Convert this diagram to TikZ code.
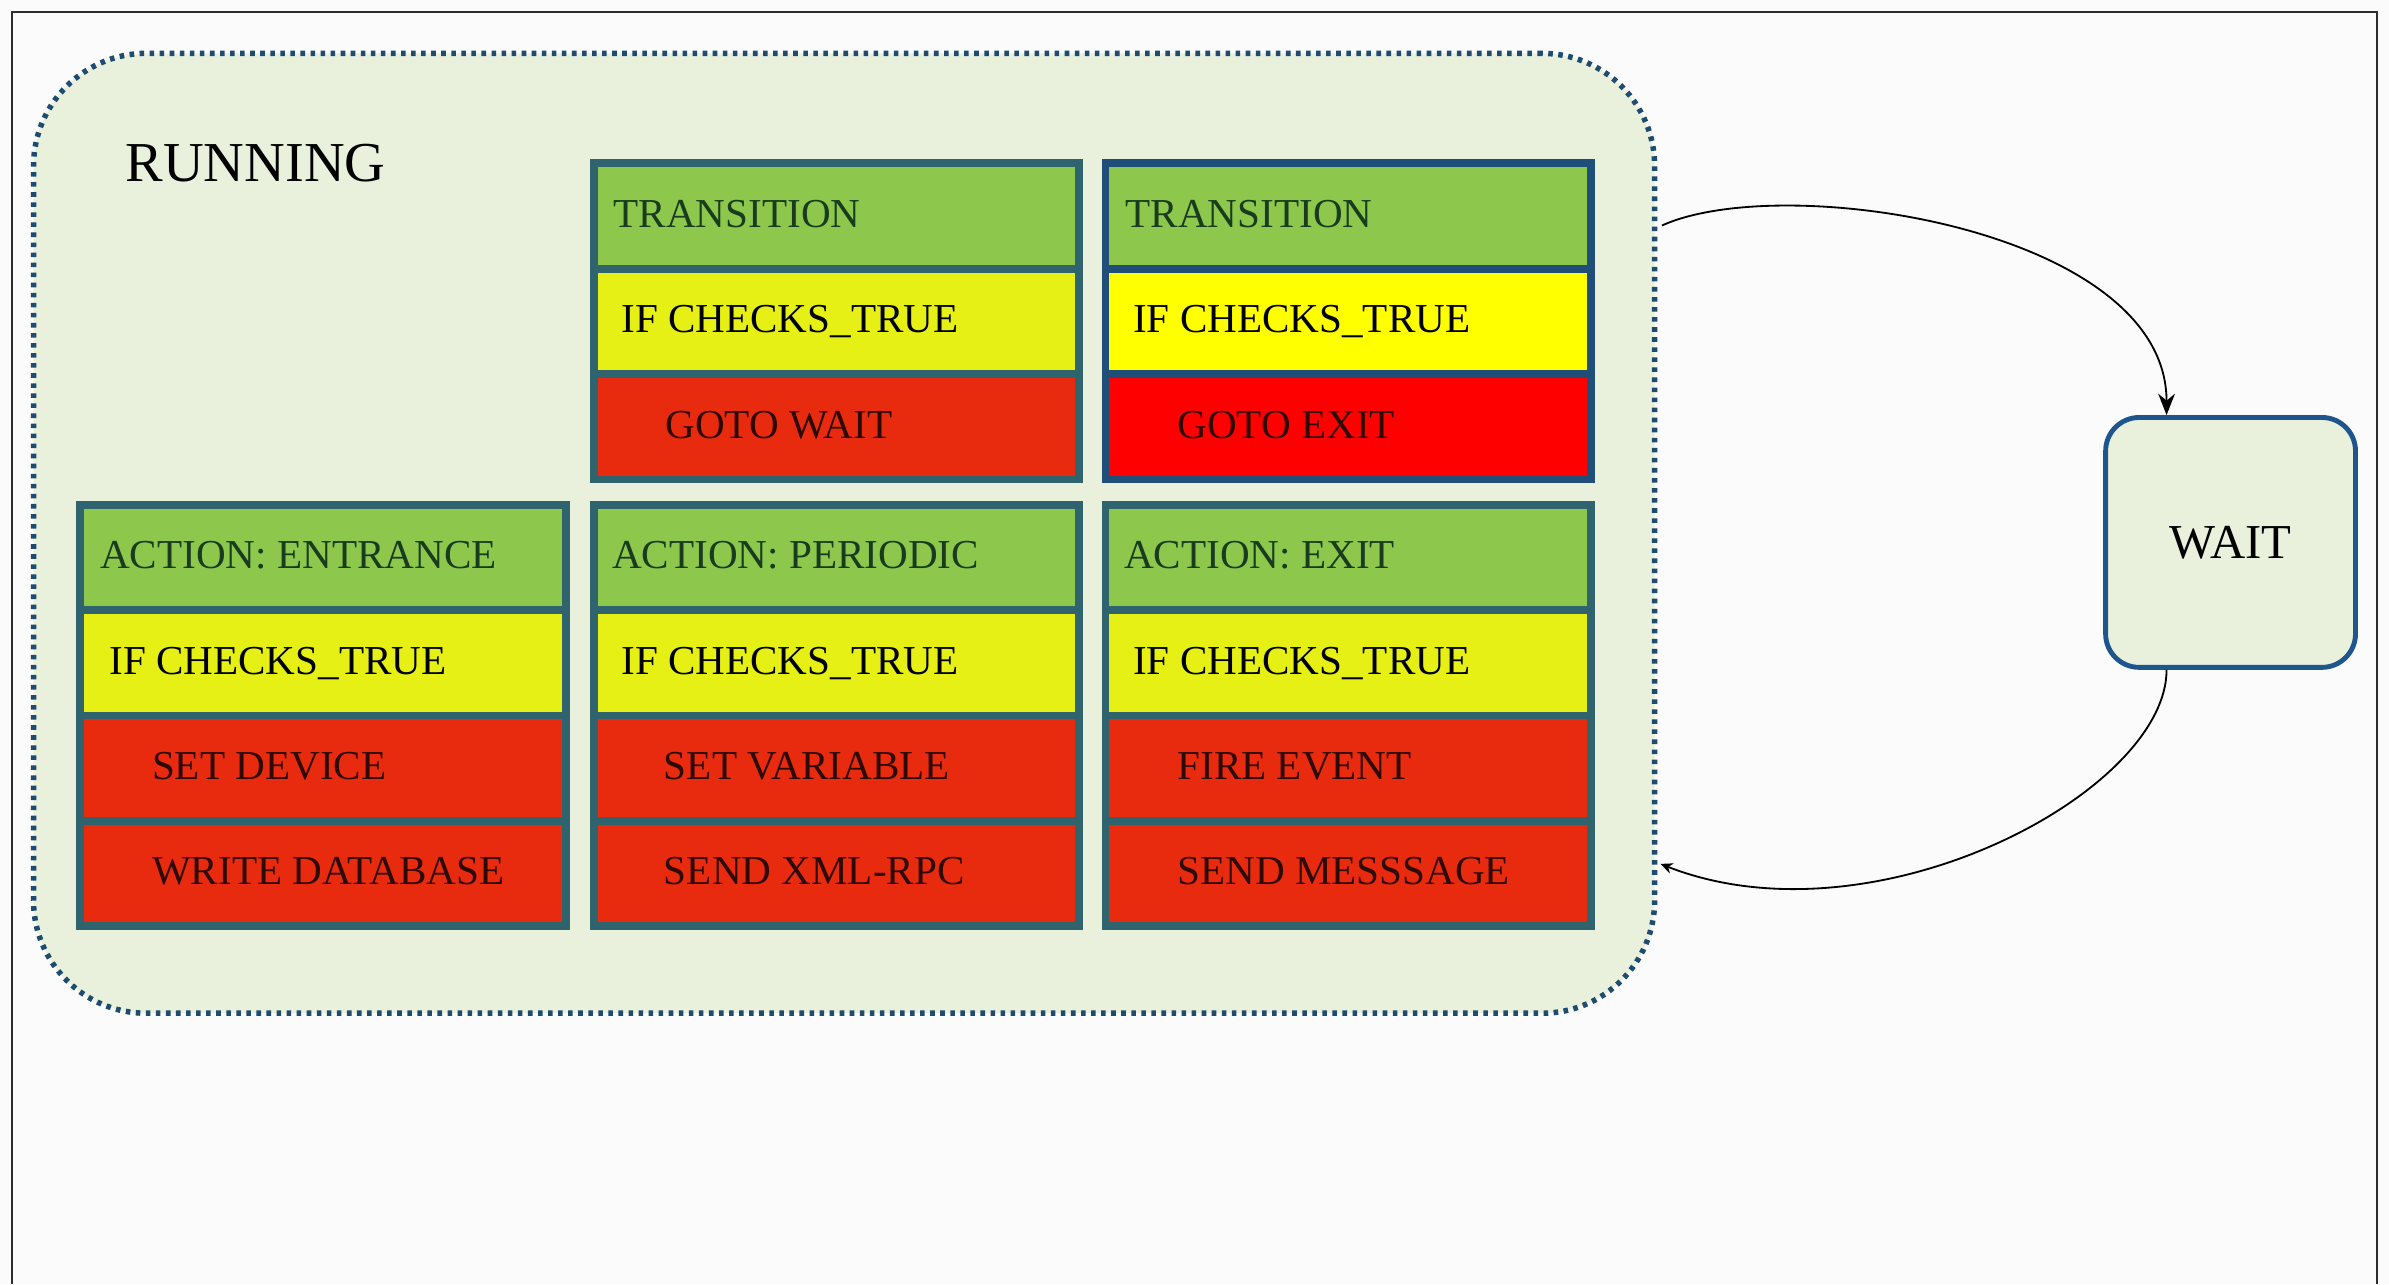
\documentclass[tikz,border=0pt]{standalone}
\usepackage{fontspec}
\setmainfont{Liberation Serif}
\usetikzlibrary{arrows.meta}

\definecolor{pagebg}{RGB}{251,251,251}
\definecolor{framegray}{RGB}{45,45,45}
\definecolor{runfill}{RGB}{233,240,220}
\definecolor{rundots}{RGB}{30,75,112}
\definecolor{waitblue}{RGB}{30,85,140}
\definecolor{cellteal}{RGB}{47,100,110}
\definecolor{cellblue}{RGB}{31,78,121}
\definecolor{hdrgreen}{RGB}{141,200,76}
\definecolor{chkyellow}{RGB}{230,240,20}
\definecolor{actred}{RGB}{232,42,14}
\definecolor{purey}{RGB}{255,255,0}
\definecolor{purer}{RGB}{255,0,0}
\definecolor{hdrtext}{RGB}{25,60,30}
\definecolor{acttext}{RGB}{45,8,0}

\tikzset{
  cellbox/.style={rectangle, draw=cellteal, line width=2.6pt, inner sep=0pt,
    minimum width=159.4pt, minimum height=34.6pt, anchor=north west},
  hdr/.style={fill=hdrgreen},
  chk/.style={fill=chkyellow},
  act/.style={fill=actred},
  celltext/.style={anchor=west, inner sep=0pt, text height=9pt, text depth=0pt,
    font=\fontsize{13.5}{15}\selectfont},
  runbox/.style={rectangle, rounded corners=37pt, fill=runfill, draw=rundots,
    line width=1.8pt, dash pattern=on 1.5pt off 1.8pt},
  waitbox/.style={rectangle, rounded corners=11pt, fill=runfill, draw=waitblue,
    line width=1.6pt, minimum width=82pt, minimum height=82pt,
    font=\fontsize{16}{18}\selectfont},
  flow/.style={draw=black, line width=0.6pt},
}

% one row of a state box: name, x, y, fill style, text indent, text colour, text
\newcommand{\staterow}[7]{%
  \node[cellbox, #4] (#1) at (#2,#3) {};
  \node[celltext, text=#6] (#1-t) at ([xshift=#5, yshift=0.8pt]#1.west) {#7};
}

\begin{document}
\begin{tikzpicture}[x=0.5pt, y=-0.5pt]
  % page
  \useasboundingbox (0,0) rectangle (1568,843);
  \fill[pagebg] (0,0) rectangle (1568,843);
  \draw[framegray, line width=0.7pt] (8,843) -- (8,8) -- (1560,8) -- (1560,843);

  % RUNNING state container
  \node[runbox, minimum width=532pt, minimum height=315pt] (run) at (554,350) {};
  \node[anchor=west, inner sep=0pt, font=\fontsize{18.5}{20}\selectfont] (runlabel) at (82,107) {RUNNING};

  % transition to WAIT
  \staterow{t1a}{387}{104.5}{hdr}{7.7pt}{hdrtext}{TRANSITION}
  \staterow{t1b}{387}{173.7}{chk}{10.2pt}{black}{IF CHECKS\_TRUE}
  \staterow{t1c}{387}{242.9}{act}{24.7pt}{acttext}{GOTO WAIT}

  % transition to EXIT
  \staterow{t2a}{723}{104.5}{hdr,draw=cellblue}{7.7pt}{hdrtext}{TRANSITION}
  \staterow{t2b}{723}{173.7}{fill=purey,draw=cellblue}{10.2pt}{black}{IF CHECKS\_TRUE}
  \staterow{t2c}{723}{242.9}{fill=purer,draw=cellblue}{24.7pt}{acttext}{GOTO EXIT}

  % entrance action
  \staterow{a1a}{50}{328.6}{hdr}{7.7pt}{hdrtext}{ACTION: ENTRANCE}
  \staterow{a1b}{50}{397.8}{chk}{10.7pt}{black}{IF CHECKS\_TRUE}
  \staterow{a1c}{50}{467.0}{act}{24.7pt}{acttext}{SET DEVICE}
  \staterow{a1d}{50}{536.2}{act}{24.7pt}{acttext}{WRITE DATABASE}

  % periodic action
  \staterow{a2a}{387}{328.6}{hdr}{7.2pt}{hdrtext}{ACTION: PERIODIC}
  \staterow{a2b}{387}{397.8}{chk}{10.2pt}{black}{IF CHECKS\_TRUE}
  \staterow{a2c}{387}{467.0}{act}{24.2pt}{acttext}{SET VARIABLE}
  \staterow{a2d}{387}{536.2}{act}{24.2pt}{acttext}{SEND XML-RPC}

  % exit action
  \staterow{a3a}{723}{328.6}{hdr}{7.2pt}{hdrtext}{ACTION: EXIT}
  \staterow{a3b}{723}{397.8}{chk}{10.2pt}{black}{IF CHECKS\_TRUE}
  \staterow{a3c}{723}{467.0}{act}{24.7pt}{acttext}{FIRE EVENT}
  \staterow{a3d}{723}{536.2}{act}{24.7pt}{acttext}{SEND MESSSAGE}

  % WAIT state
  \node[waitbox] (wait) at (1464,356) {WAIT};

  % connectors between the two states
  \coordinate (runout) at ([xshift=1.5pt, yshift=101pt]run.east);
  \coordinate (waitin) at ([xshift=-21pt]wait.north);
  \coordinate (waitout) at ([xshift=-21pt]wait.south);
  \coordinate (runin) at ([xshift=1pt, yshift=-108.5pt]run.east);

  \draw[flow, -{Stealth[length=7pt, width=5.5pt]}]
    (runout) .. controls (1170,112) and (1422,150) .. (waitin);
  \draw[flow, -{Stealth[length=4pt, width=3.5pt]}]
    (waitout) .. controls (1422,520) and (1230,622) .. (runin);
\end{tikzpicture}
\end{document}
